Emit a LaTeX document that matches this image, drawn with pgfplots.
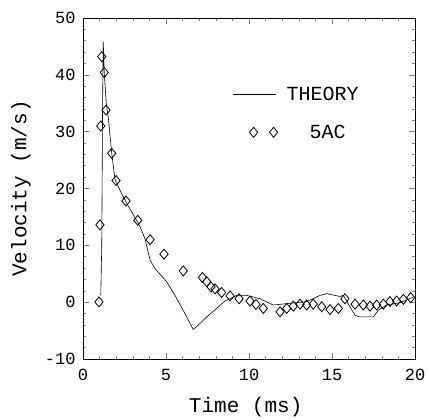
\documentclass[border=0pt]{standalone}
\usepackage{pgfplots}
\pgfplotsset{compat=1.18}
\usepackage{fontspec}
\setmainfont{Liberation Mono}
\pgfplotsset{
  mylineleg/.style={legend image code/.code={\draw[##1] (0pt,0pt) -- (43pt,0pt);}},
  mydiamleg/.style={legend image code/.code={\draw[##1] plot coordinates {(21pt,0pt) (41pt,0pt)};}}
}
\begin{document}
\begin{tikzpicture}
\begin{axis}[
  name=ax,
  scale only axis,
  width=332pt, height=341pt,
  xmin=0, xmax=20, ymin=-10, ymax=50,
  xtick={0,5,10,15,20}, ytick={-10,0,10,20,30,40,50},
  minor x tick num=4, minor y tick num=4,
  tick align=inside, tick pos=both,
  major tick length=6pt, minor tick length=3pt,
  axis line style={line width=0.9pt},
  every tick/.append style={line width=0.6pt},
  every tick label/.append style={font=\fontsize{17}{17}\selectfont},
  xticklabel style={yshift=-7pt},
  yticklabel style={xshift=-4pt},
  /pgf/number format/assume math mode=true,
  xlabel={Time (ms)}, ylabel={Velocity (m/s)},
  label style={font=\fontsize{21}{21}\selectfont},
  xlabel style={at={(axis description cs:0.49,-0.14)}, anchor=center},
  ylabel style={at={(axis description cs:-0.187,0.5)}, anchor=center},
  legend style={draw=none, fill=none, at={(0.44,0.81)}, anchor=north west,
    font=\fontsize{20}{20}\selectfont, row sep=19pt},
  legend cell align=left,
]
\addplot[black, line width=0.6pt, mylineleg] coordinates {
(1.07,1.2) (1.13,10) (1.18,35) (1.22,45.8) (1.28,40.4) (1.40,35) (1.52,32.6) (1.73,26.2) (1.93,21.5)
(2.33,19.1) (2.63,17.4) (3.23,14.4) (3.43,13.3) (3.73,11.2) (4.04,7.4) (4.34,5.9)
(5.04,3.6) (5.54,1.2) (6.14,-2.0) (6.64,-4.8) (7.05,-3.75) (7.45,-2.6) (8.05,-1.1)
(8.55,0.2) (9.26,1.2) (9.86,1.2) (10.66,0.6) (11.46,-0.5) (12.47,-0.2) (13.47,0.1)
(14.28,1.2) (14.68,1.5) (15.48,1.0) (15.68,1.2) (16.08,-0.8) (16.39,-2.3) (16.69,-2.6)
(17.49,-2.6) (17.79,-1.4) (18.29,-0.5) (19.1,-0.1) (19.9,0.9)
};
\addlegendentry{\hspace*{7pt}THEORY}
\addplot[only marks, mark=diamond, mark size=5pt, black,
  mark options={xscale=1.1, line width=0.8pt}, mydiamleg]
coordinates {
(0.96,0.05) (1.02,13.6) (1.07,31) (1.13,43.2) (1.28,40.4) (1.39,33.8) (1.73,26.2) (1.99,21.4)
(2.59,17.8) (3.3,14.4) (4.04,11.0) (4.88,8.45) (6.04,5.5) (7.19,4.35) (7.45,3.6) (7.71,2.7)
(7.95,2.35) (8.35,1.7) (8.86,1.1) (9.4,0.6) (10.06,0.2) (10.42,-0.4) (10.86,-1.1)
(11.87,-1.7) (12.27,-1.1) (12.67,-0.7) (13.07,-0.35) (13.47,-0.5) (13.87,-0.35)
(14.38,-0.8) (14.88,-1.3) (15.38,-1.1) (15.78,0.6) (16.39,-0.35) (16.89,-0.5)
(17.29,-0.7) (17.69,-0.5) (18.09,-0.35) (18.49,0.1) (18.89,0.2) (19.3,0.5) (19.74,0.8)
};
\addlegendentry{\hspace*{30pt}5AC}
\end{axis}
\path (ax.south west) ++(-83pt,-59pt) coordinate (bbl);
\path (ax.north east) ++(14pt,18pt) coordinate (bbr);
\path (bbl) (bbr);
\end{tikzpicture}
\end{document}
